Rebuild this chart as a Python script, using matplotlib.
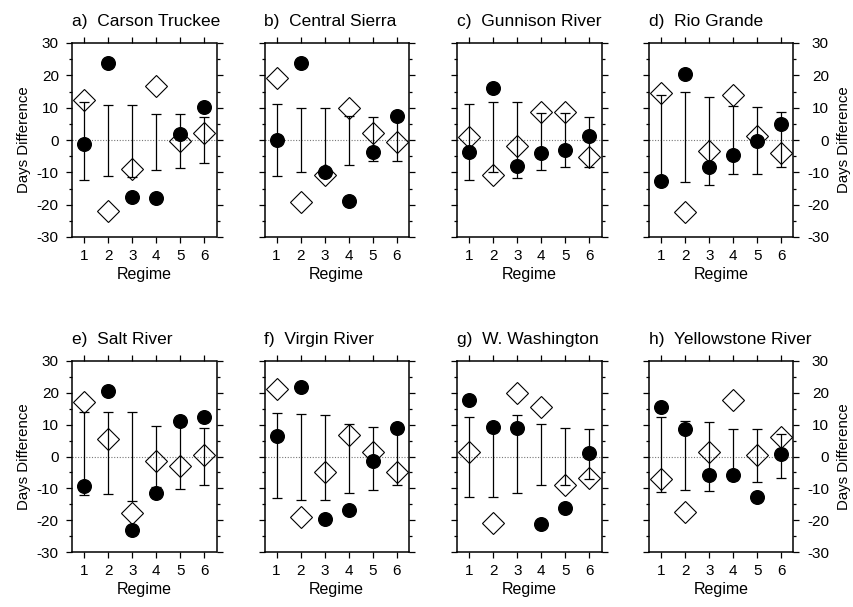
import matplotlib
matplotlib.use('Agg')
import matplotlib.pyplot as plt
import numpy as np
from matplotlib.ticker import MultipleLocator

plt.rcParams['font.family'] = ['Liberation Sans', 'DejaVu Sans']
plt.rcParams['axes.unicode_minus'] = False

regimes = [1, 2, 3, 4, 5, 6]
titles = ['a)  Carson Truckee', 'b)  Central Sierra', 'c)  Gunnison River', 'd)  Rio Grande',
          'e)  Salt River', 'f)  Virgin River', 'g)  W. Washington', 'h)  Yellowstone River']

# filled circles
circles = [
    [-1.2, 23.8, -17.6, -17.9, 1.8, 10.1],
    [0.0, 23.8, -10.0, -18.8, -3.6, 7.5],
    [-3.8, 16.0, -8.0, -4.1, -3.1, 1.2],
    [-12.6, 20.5, -8.5, -4.7, -0.2, 5.0],
    [-9.3, 20.6, -23.0, -11.4, 11.1, 12.5],
    [6.4, 21.7, -19.5, -16.7, -1.5, 9.1],
    [17.7, 9.3, 9.1, -21.3, -16.2, 1.2],
    [15.6, 8.6, -5.8, -5.8, -12.6, 0.8],
]
# open diamonds
diamonds = [
    [12.4, -21.9, -9.1, 16.8, -0.2, 2.1],
    [19.2, -19.2, -10.9, 9.8, 2.1, -0.6],
    [0.8, -10.9, -1.8, 8.8, 8.6, -5.4],
    [14.4, -22.2, -3.3, 14.0, 1.2, -4.1],
    [17.2, 5.4, -17.6, -1.3, -2.9, 0.4],
    [21.1, -19.0, -4.8, 6.9, 1.3, -5.0],
    [1.5, -20.9, 20.0, 15.6, -9.0, -6.9],
    [-7.1, -17.4, 1.5, 17.9, 0.5, 6.2],
]
# range bars
bar_hi = [
    [11.9, 10.9, 10.9, 8.1, 8.1, 7.0],
    [11.2, 9.8, 9.8, 7.4, 7.2, 7.5],
    [11.2, 11.6, 11.6, 8.5, 8.3, 7.2],
    [13.9, 14.9, 13.4, 10.6, 10.3, 8.8],
    [14.1, 14.1, 14.1, 9.6, 9.5, 9.1],
    [13.7, 13.3, 13.0, 10.2, 9.3, 8.5],
    [12.5, 9.0, 13.0, 10.2, 9.1, 8.5],
    [12.3, 11.2, 10.9, 8.6, 8.6, 7.2],
]
bar_lo = [
    [-12.4, -11.2, -11.4, -9.3, -8.8, -7.2],
    [-11.1, -9.8, -10.3, -7.6, -6.5, -6.5],
    [-12.4, -10.0, -11.9, -9.3, -8.3, -8.3],
    [-12.5, -12.9, -13.8, -10.6, -10.6, -8.5],
    [-12.1, -11.9, -13.9, -9.5, -10.3, -8.8],
    [-13.0, -13.7, -13.7, -11.4, -10.4, -9.0],
    [-12.7, -12.7, -11.6, -9.0, -9.0, -7.2],
    [-11.3, -10.6, -10.8, -7.5, -7.9, -6.7],
]

fig = plt.figure(figsize=(8.54, 6.07), dpi=100)
W, H = 854.0, 607.0
col_left = [72, 264.5, 457, 649]
rows = [(43, 237), (361, 552)]

for i in range(8):
    r, c = divmod(i, 4)
    top, bot = rows[r]
    ax = fig.add_axes([col_left[c] / W, 1 - bot / H, 144.5 / W, (bot - top) / H])

    x = np.array(regimes)
    hi = np.array(bar_hi[i])
    lo = np.array(bar_lo[i])
    mid = (hi + lo) / 2
    ax.axhline(0, color='#777777', lw=0.8, ls=(0, (1, 1.5)), zorder=1)
    ax.errorbar(x, mid, yerr=[mid - lo, hi - mid], fmt='none', ecolor='black',
                elinewidth=0.9, capsize=3.6, capthick=0.9, zorder=2)
    ax.plot(x, diamonds[i], 'D', ms=11.5, mfc='none', mec='black', mew=0.8, zorder=3)
    ax.plot(x, circles[i], 'o', ms=9.8, mfc='black', mec='black', zorder=4)

    ax.set_xlim(0.5, 6.5)
    ax.set_ylim(-30, 30)
    ax.set_xticks(regimes)
    ax.yaxis.set_major_locator(MultipleLocator(10))
    ax.yaxis.set_minor_locator(MultipleLocator(5))
    for s in ax.spines.values():
        s.set_linewidth(1.1)
    ax.tick_params(which='both', direction='out', top=True, right=True, width=0.9)
    ax.tick_params(which='major', length=4.5)
    ax.tick_params(which='minor', length=2.5)
    ax.tick_params(axis='x', labelsize=11, pad=4)
    ax.tick_params(axis='y', labelsize=11, pad=5)
    ax.set_xlabel('Regime', fontsize=11.5, labelpad=3)

    if c == 0:
        ax.set_ylabel('Days Difference', fontsize=10.8, labelpad=4)
    elif c == 3:
        ax.tick_params(axis='y', labelleft=False, labelright=True, pad=21)
        for t in ax.yaxis.get_major_ticks():
            t.label2.set_horizontalalignment('right')
        ax.yaxis.set_label_position('right')
        ax.set_ylabel('Days Difference', fontsize=10.8, labelpad=6)
    else:
        ax.tick_params(axis='y', labelleft=False)

    ax.annotate(titles[i], xy=(0, 1), xycoords='axes fraction', xytext=(0, 12),
                textcoords='offset points', ha='left', va='baseline', fontsize=12.5)

fig.savefig('out.png', dpi=100)
